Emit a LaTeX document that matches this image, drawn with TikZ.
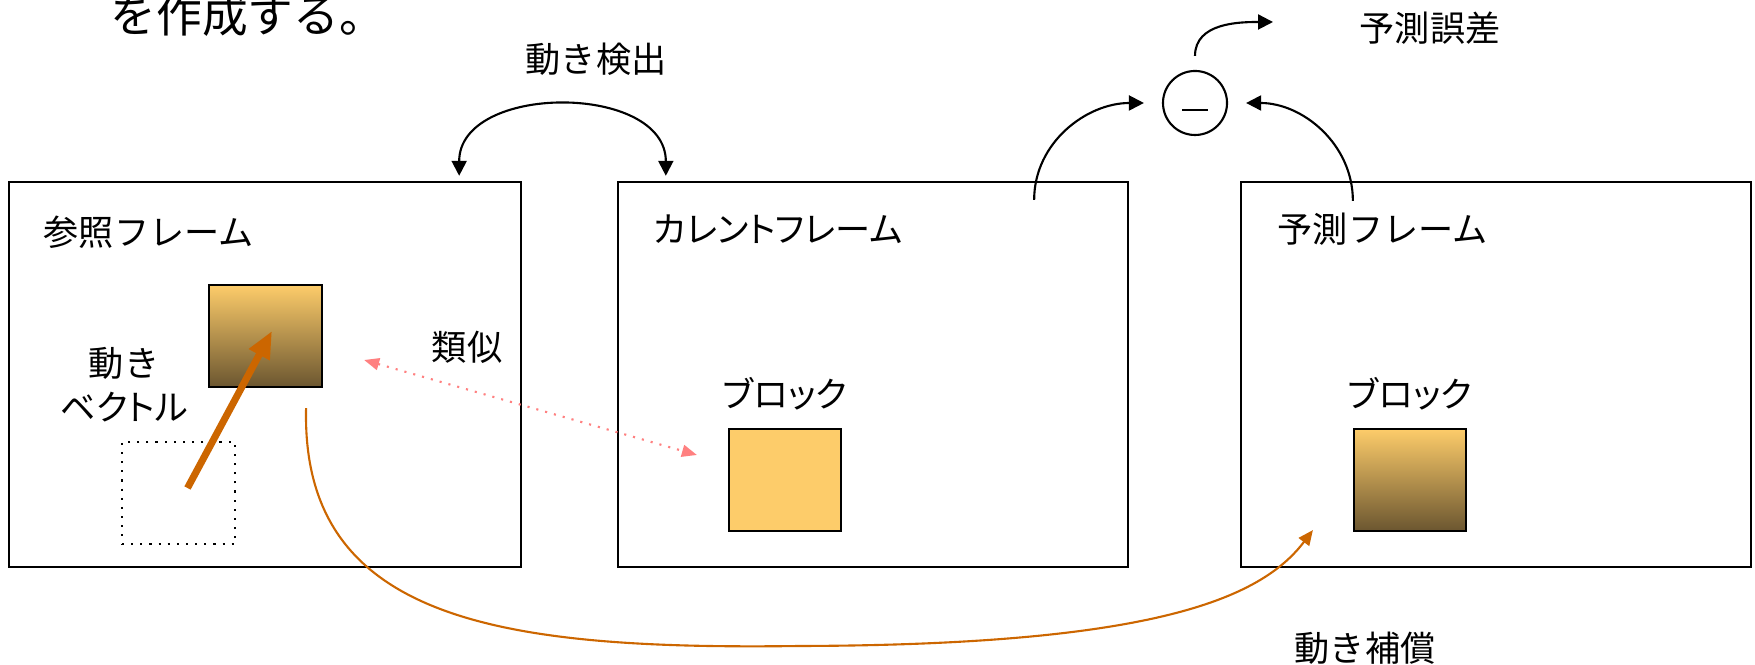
\documentclass[tikz,border=0pt]{standalone}
\usepackage{fontspec}
\newfontfamily\jp{Noto Sans CJK JP}
\newfontfamily\jpp[RawFeature=+palt]{Noto Sans CJK JP}
\usetikzlibrary{arrows.meta,positioning,calc}
\definecolor{blkhi}{RGB}{253,204,106}
\definecolor{blklo}{RGB}{107,86,48}
\definecolor{mcorange}{RGB}{204,102,0}
\definecolor{simpink}{RGB}{255,128,128}

\begin{document}
\begin{tikzpicture}[x=0.01cm,y=-0.01cm,
  frame/.style={draw,line width=0.6pt,minimum width=5.1cm,minimum height=3.85cm,inner sep=0},
  blk/.style={draw,line width=0.6pt,minimum width=1.12cm,minimum height=1.02cm,inner sep=0},
  lbl/.style={font=\jp\fontsize{10}{12.5}\selectfont,inner sep=0},
  tip/.style={line width=0.6pt,-{Triangle[length=0.15cm,width=0.15cm]}},
  tips/.style={line width=0.6pt,{Triangle[length=0.15cm,width=0.15cm]}-{Triangle[length=0.15cm,width=0.15cm]}}]
\useasboundingbox (0,0) rectangle (1755,665);
\clip (0,0) rectangle (1755,665);

\node[lbl,font=\jp\fontsize{13}{15}\selectfont,anchor=west] (intro) at (110,15) {を作成する。};

% frames
\node[frame,minimum width=5.12cm] (ref) at (265,374.5) {};
\node[frame] (cur) at (873,374.5) {};
\node[frame] (pred) at (1496,374.5) {};
\node[lbl,anchor=west] at (43,232) {参照フレーム};
\node[lbl,anchor=west] at (653,229) {\jpp カレントフレーム};
\node[lbl,anchor=west] at (1277,229) {予測フレーム};

% blocks
\node[blk,top color=blkhi,bottom color=blklo,minimum width=1.13cm] (refblk) at (265.5,336) {};
\node[blk,dotted,line width=0.5pt,minimum width=1.13cm] (oldblk) at (178.5,493) {};
\node[blk,fill=blkhi] (curblk) at (785,480) {};
\node[blk,top color=blkhi,bottom color=blklo] (predblk) at (1410,480) {};
\node[lbl] at (785,394) {\jpp ブロック};
\node[lbl] at (1410,394) {\jpp ブロック};

\node[lbl,align=center] (mvlbl) at (124,385) {動き\\\jpp ベクトル};
\node[lbl] (simlbl) at (467,347) {類似};
\node[lbl] (melbl) at (596,59) {動き検出};
\node[lbl] (errlbl) at (1430,28) {予測誤差};
\node[lbl] (mclbl) at (1365,648) {動き補償};

% subtractor
\node[draw,circle,line width=0.6pt,minimum size=0.64cm,inner sep=0] (diff) at (1195,103) {};
\draw[line width=0.6pt] ([xshift=-0.13cm,yshift=-0.07cm]diff.center) -- ++(26,0);
\coordinate (errout) at (1273,22);

% connectors
\draw[tips] ([xshift=-0.63cm,yshift=0.05cm]ref.north east) .. controls +(0,-93) and +(0,-93) .. ([xshift=0.49cm,yshift=0.05cm]cur.north west);
\draw[tip] ([xshift=-0.95cm,yshift=-0.19cm]cur.north east) to[out=90,in=180] ([xshift=-0.18cm]diff.west);
\draw[tip] ([xshift=1.13cm,yshift=-0.2cm]pred.north west) to[out=90,in=0] ([xshift=0.18cm]diff.east);
\draw[tip] ([yshift=0.14cm]diff.north) to[out=90,in=180] (errout);

\draw[mcorange,line width=2pt,-{Triangle[length=0.27cm,width=0.22cm]}] ([xshift=0.09cm,yshift=0.05cm]oldblk.center) -- ([xshift=0.065cm,yshift=0.05cm]refblk.center);
\draw[simpink,dotted,line width=0.6pt,{Triangle[length=0.15cm,width=0.12cm]}-{Triangle[length=0.15cm,width=0.12cm]}] ([xshift=0.41cm,yshift=-0.24cm]refblk.east) -- ([xshift=-0.31cm,yshift=0.25cm]curblk.west);
\draw[mcorange,line width=0.6pt,-{Triangle[length=0.15cm,width=0.13cm]}] ([xshift=-0.17cm,yshift=-0.2cm]refblk.south east) .. controls +(-5,213) and (500,650) .. (800,646) .. controls (1150,645) and (1260,600) .. ([xshift=-0.4cm,yshift=0.02cm]predblk.south west);
\end{tikzpicture}
\end{document}
